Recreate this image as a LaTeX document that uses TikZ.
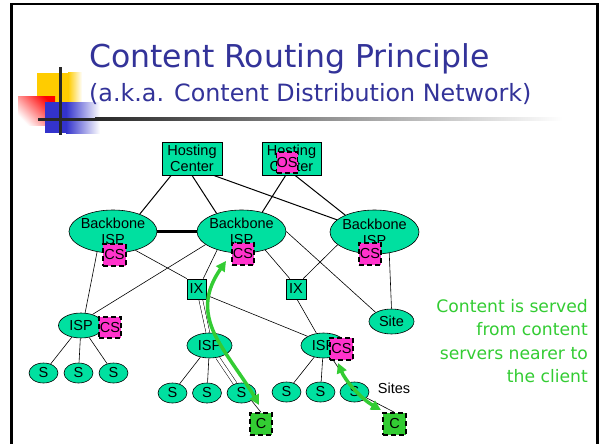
\documentclass[tikz,border=0pt]{standalone}
\usepackage{fontspec}
\setmainfont{Liberation Sans}
\newfontfamily\dejavu{DejaVu Sans}
\usetikzlibrary{shapes.geometric,arrows.meta,calc}
\pgfdeclarelayer{background}
\pgfdeclarelayer{paper}
\pgfsetlayers{paper,background,main}
\definecolor{teal1}{RGB}{0,224,160}
\definecolor{pink1}{RGB}{255,51,204}
\definecolor{green1}{RGB}{51,204,51}
\definecolor{title1}{RGB}{51,51,153}
\definecolor{gold1}{RGB}{255,204,0}
\definecolor{blue1}{RGB}{51,51,204}
\definecolor{line1}{RGB}{40,40,40}
\begin{document}
\begin{tikzpicture}[x=1pt,y=-1pt,
  every node/.style={font=\fontsize{14.5}{16}\selectfont, text=black},
  ell/.style={ellipse, draw=black, line width=0.6pt, fill=teal1, inner sep=-10pt},
  box/.style={rectangle, draw=black, line width=0.8pt, fill=teal1, inner sep=0pt},
  cache/.style={rectangle, draw=black, line width=1.3pt, dash pattern=on 5pt off 3pt, fill=pink1, inner sep=0pt, minimum width=22pt, minimum height=22pt},
  client/.style={cache, fill=green1},
  link/.style={draw=black, line width=0.6pt},
  duallink/.style={draw=black, line width=0.5pt, double=white, double distance=3.2pt},
  uplink/.style={draw=black, line width=1pt},
  route/.style={draw=green1, line width=3.5pt, {Triangle[length=10pt,width=10pt]}-{Triangle[length=10pt,width=10pt]}},
  gtext/.style={font=\dejavu\fontsize{17.2}{20}\selectfont, text=green1, anchor=base east, inner sep=0pt}
]
\useasboundingbox (0,0) rectangle (600,444);
\begin{pgfonlayer}{paper}
\fill[white] (0,0) rectangle (600,444);
\end{pgfonlayer}
% frame
\draw[line width=2.5pt, black] (11.5,4) rectangle (597.5,470);
% logo
\fill[gold1] (37,73) rectangle (68,102);
\shade[left color=gold1, right color=white] (68,73) rectangle (82,102);
\shade[top color=red, bottom color=white, shading angle=-45] (18,97) rectangle (55,125);
\fill[blue1] (45,102) rectangle (66,133);
\shade[left color=blue1, right color=white] (66,102) rectangle (100,133);
\fill[line1] (58.5,67) rectangle (61.5,135);
\fill[line1] (38,117.5) rectangle (95,120.5);
\shade[left color=line1, right color=white] (95,117.5) rectangle (563,120.5);
% title
\node[anchor=base west, font=\dejavu\fontsize{31.5}{36}\selectfont, text=title1, inner sep=0pt] (title) at (89,68) {Content Routing Principle};
\node[anchor=base west, font=\dejavu\fontsize{23.8}{28}\selectfont, text=title1, inner sep=0pt] (subtitle) at (89,102) {(a.k.a. Content Distribution Network)};

% nodes
\node[box, minimum width=60pt, minimum height=33pt, align=center] (hc1) at (192,158.5) {Hosting\\Center};
\node[box, minimum width=59pt, minimum height=33pt, align=center] (hc2) at (291.5,158.5) {Hosting\\Center};
\node[cache, minimum width=21pt, minimum height=21pt] (os) at (287,162.5) {OS};

\node[ell, minimum width=88pt, minimum height=43pt, align=center] (bb1) at (113,231.5) {Backbone\\ISP};
\node[ell, minimum width=89pt, minimum height=43pt, align=center] (bb2) at (241.5,231.5) {Backbone\\ISP};
\node[ell, minimum width=89pt, minimum height=44pt, align=center] (bb3) at (374.5,232) {Backbone\\ISP};

\node[box, minimum width=19pt, minimum height=20pt] (ix1) at (196.5,289) {IX};
\node[box, minimum width=20pt, minimum height=20pt] (ix2) at (296,289) {IX};

\node[ell, minimum width=45pt, minimum height=25pt] (site) at (391.5,321.5) {Site};
\node[ell, minimum width=45pt, minimum height=25pt] (isp1) at (81,325.5) {ISP};
\node[ell, minimum width=45pt, minimum height=25pt] (isp2) at (209.5,345.5) {ISP};
\node[ell, minimum width=45pt, minimum height=25pt] (isp3) at (323.5,345.5) {ISP};

\foreach \n/\x/\y in {s1/43.5/373, s2/78.5/373, s3/113.5/373,
                      s4/172.5/393, s5/207/393, s6/241.5/393,
                      s7/286.5/392, s8/320.5/392, s9/354.5/392}
  \node[ell, minimum width=29pt, minimum height=20pt] (\n) at (\x,\y) {S};

\node[client] (c1) at (261,424) {C};
\node[client, minimum width=23pt] (c2) at (394.5,424) {C};

\node[inner sep=0pt] (sites) at (394,388) {Sites};

% caches
\node[cache, minimum width=23pt] (cs1) at (114.5,255) {CS};
\node[cache] (cs2) at (243,254) {CS};
\node[cache] (cs3) at (370,254) {CS};
\node[cache, minimum height=21pt] (cs4) at (110,327.5) {CS};
\node[cache, minimum width=23pt] (cs5) at (341.5,349) {CS};

% links
\begin{pgfonlayer}{background}
\draw[uplink] (hc1.219.5) -- (bb1.33);
\draw[uplink] (hc1.south) -- (bb2.144);
\draw[uplink] (hc1.-38) -- (bb3.162);
\draw[uplink] (hc2.251.6) -- (bb2.43);
\draw[uplink] (hc2.-78) -- (bb3.150);
\draw[draw=black, line width=2.2pt] (bb1) -- (bb2);

\draw[link] (bb1.-128) -- (isp1.72);
\draw[link] (bb2.200) -- (isp1.44);
\draw[link] (bb1.-40) -- (ix1.133);
\draw[link] (bb2.217) -- (ix1.57);
\draw[link] (bb2.-38) -- (ix2.121);
\draw[link] (bb2.0) -- (site.150);
\draw[link] (bb3.199) -- (ix2.55);
\draw[link] (bb3.-55) -- (site.north);
\draw[duallink] (ix1.-68) -- (isp2.97);
\draw[link] (ix1.-32) -- (isp3.150);
\draw[link] (ix2.-84) -- (isp3.120);
\draw[link] (isp1) -- (s1);
\draw[link] (isp1) -- (s2);
\draw[link] (isp1) -- (s3);
\draw[link] (isp2) -- (s4);
\draw[link] (isp2) -- (s5);
\draw[duallink] (isp2) -- (s6);
\draw[link] (isp3) -- (s7);
\draw[link] (isp3) -- (s8);
\draw[link] (isp3) -- (s9);
\draw[link] (s6.-37) -- (c1.north);
\draw[link] (s9.-26) -- (c2.north);
\end{pgfonlayer}

% routes
\coordinate (g1a) at (226,261);
\coordinate (g1b) at (259,405);
\draw[route] (g1a) .. controls (206,290) and (203,310) .. (215,335) .. controls (225,355) and (245,380) .. (g1b);
\coordinate (g2a) at (338,363);
\coordinate (g2b) at (381,410);
\draw[route] (g2a) .. controls (345,380) and (360,398) .. (g2b);

% side text
\node[gtext] (t1) at (588,312) {Content is served};
\node[gtext] (t2) at (588,335.5) {from content};
\node[gtext] (t3) at (588,359) {servers nearer to};
\node[gtext] (t4) at (588,382.5) {the client};
\end{tikzpicture}
\end{document}
